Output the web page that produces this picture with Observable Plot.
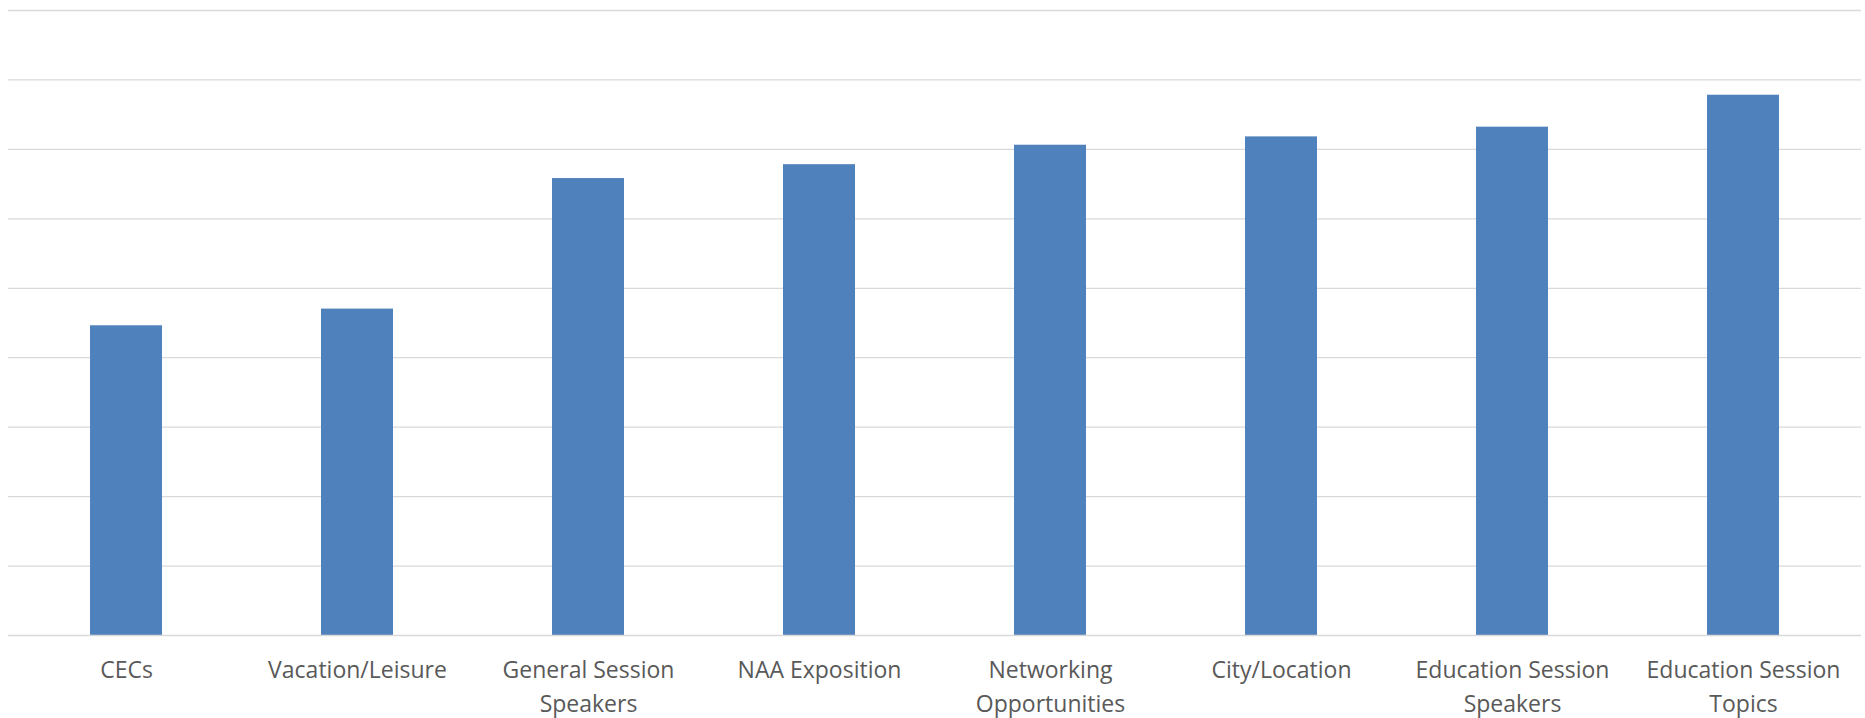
<!DOCTYPE html>
<html>
<head>
<meta charset="utf-8">
<script src="https://cdn.jsdelivr.net/npm/d3@7"></script>
<script src="https://cdn.jsdelivr.net/npm/@observablehq/plot@0.6"></script>
<style>
  html, body { margin: 0; padding: 0; background: #ffffff; }
  #chart svg { display: block; }
</style>
</head>
<body>
<div id="chart"></div>
<script>
const categories = ["CECs", "Vacation/Leisure", "General Session Speakers", "NAA Exposition", "Networking Opportunities", "City/Location", "Education Session Speakers", "Education Session Topics"];
const tickLabels = ["CECs", "Vacation/Leisure", "General Session\nSpeakers", "NAA Exposition", "Networking\nOpportunities", "City/Location", "Education Session\nSpeakers", "Education Session\nTopics"];
const values = [2.23, 2.35, 3.29, 3.39, 3.53, 3.59, 3.66, 3.89];
const gridTicks = [0.5, 1, 1.5, 2, 2.5, 3, 3.5, 4, 4.5];

const data = categories.map((c, i) => ({category: c, value: values[i]}));
const labelOf = new Map(categories.map((c, i) => [c, tickLabels[i]]));

const chart = Plot.plot({
  width: 1865,
  height: 718,
  marginLeft: 8,
  marginRight: 4,
  marginTop: 10,
  marginBottom: 83,
  style: {background: "#ffffff", fontFamily: "'Open Sans', sans-serif"},
  x: {domain: categories, paddingInner: 0.6875, paddingOuter: 0.34375, align: 0.5, label: null},
  y: {domain: [0, 4.5], label: null},
  marks: [
    Plot.gridY(gridTicks, {stroke: "#d9d9d9", strokeOpacity: 1, strokeWidth: 1.3}),
    Plot.barY(data, {x: "category", y: "value", fill: "#4f81bd"}),
    Plot.ruleY([0], {stroke: "#d9d9d9", strokeWidth: 1.5}),
    Plot.axisX({
      tickSize: 0,
      tickPadding: 18,
      tickFormat: d => labelOf.get(d),
      fontSize: 23,
      lineHeight: 1.48,
      fill: "#595959",
      fontFamily: "'Open Sans', sans-serif"
    }),
    Plot.axisY({ticks: [], label: null, tickSize: 0})
  ]
});
document.getElementById("chart").appendChild(chart);
</script>
</body>
</html>
